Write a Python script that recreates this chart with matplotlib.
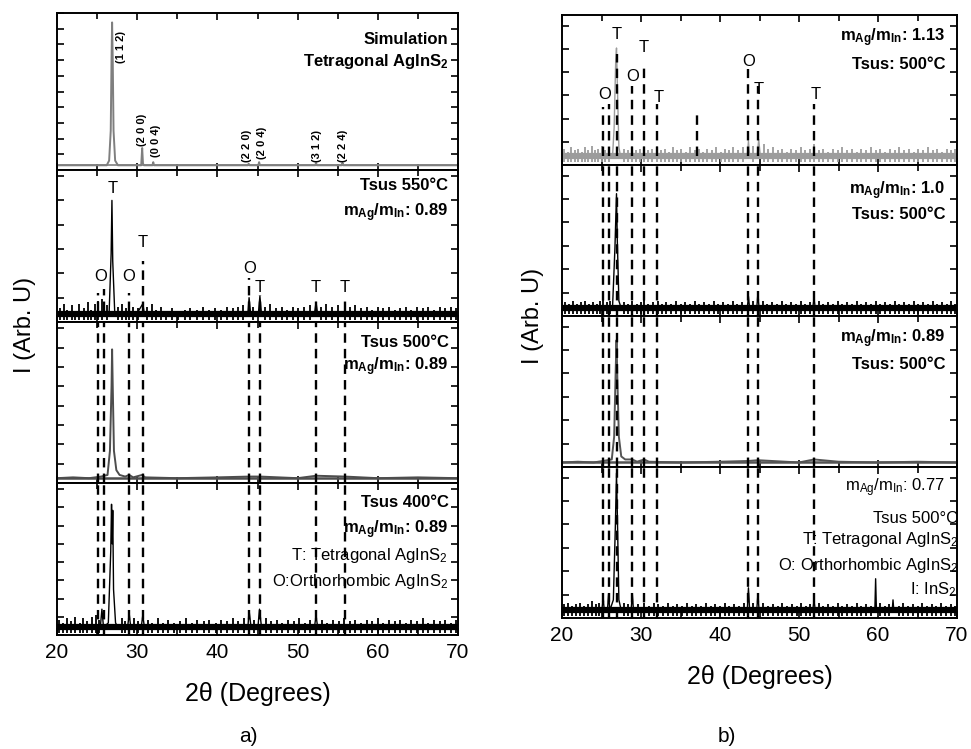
import matplotlib
matplotlib.use("Agg")
import matplotlib.pyplot as plt
from matplotlib.ticker import MultipleLocator
from matplotlib import font_manager as fm

W, H = 971, 749

# ---------------- data (2theta in degrees, intensity as fraction of sub-panel) ----------------
# left panel a)
sim_pat = [(20, .03), (26.2, .03), (26.5, .06), (26.7, .25), (26.8, .70), (26.87, .94), (26.95, .70),
           (27.05, .25), (27.25, .06), (27.6, .03), (30.5, .03), (30.62, .14), (30.72, .04), (30.85, .03),
           (31.9, .03), (32.0, .05), (32.1, .03), (43.8, .03), (43.9, .04), (44.0, .03), (45.1, .03),
           (45.2, .05), (45.3, .03), (52.2, .03), (52.3, .045), (52.4, .03), (55.5, .03), (55.6, .045),
           (55.7, .03), (70, .03)]
hkl_text = ["(1 1 2)", "(2 0 0)", "(0 0 4)", "(2 2 0)", "(2 0 4)", "(3 1 2)", "(2 2 4)"]
hkl_x = [28.0, 30.6, 32.3, 43.7, 45.5, 52.4, 55.6]
hkl_y = [0.68, 0.15, 0.08, 0.05, 0.07, 0.05, 0.05]

# Tsus 550 C : peaks + noise spikes
l550_pat = [(20, .05), (26.5, .06), (26.75, .45), (26.85, .80), (26.95, .40), (27.2, .06), (29.9, .05),
            (30.7, .12), (30.9, .05), (43.8, .05), (43.95, .16), (44.15, .05), (45.1, .05), (45.3, .17),
            (45.5, .05), (52.1, .05), (52.3, .13), (52.5, .05), (70, .05)]
l550_spk = [(20.4, .09), (20.9, .12), (21.3, .08), (21.9, .11), (22.2, .07), (22.8, .12), (23.4, .09),
            (23.9, .13), (24.3, .08), (24.7, .12), (25.1, .14), (25.6, .15), (26.2, .11), (27.6, .10),
            (28.1, .12), (28.6, .09), (29.0, .13), (29.5, .10), (30.1, .09), (31.2, .10), (31.8, .12),
            (32.4, .08), (33.0, .10), (33.6, .07), (34.3, .09), (35.1, .07), (35.9, .08), (36.6, .09),
            (37.4, .08), (38.2, .10), (38.9, .08), (39.7, .09), (40.5, .08), (41.2, .10), (41.9, .09),
            (42.6, .10), (43.2, .11), (44.5, .10), (45.9, .10), (46.6, .12), (47.3, .09), (48.0, .10),
            (48.7, .08), (49.4, .10), (50.1, .09), (50.8, .10), (51.5, .11), (52.9, .10), (53.6, .12),
            (54.3, .10), (55.0, .11), (55.9, .12), (56.5, .10), (57.2, .11), (57.9, .09), (58.6, .10),
            (59.3, .08), (60.0, .10), (60.7, .09), (61.4, .10), (62.1, .08), (62.8, .09), (63.5, .10),
            (64.2, .08), (64.9, .10), (65.6, .09), (66.3, .10), (67.0, .08), (67.7, .10), (68.4, .09),
            (69.1, .10), (69.7, .09)]
l550_marks = ["O", "T", "O", "T", "O", "T", "T", "T"]
l550_mark_x = [25.4, 26.9, 29.0, 30.7, 44.0, 45.3, 52.3, 55.9]
l550_mark_y = [0.30, 0.88, 0.30, 0.52, 0.35, 0.23, 0.23, 0.23]
l550_dash_x = [25.1, 25.9, 29.0, 30.7, 44.0, 45.3, 52.3, 55.9]
l550_dash_top = [0.19, 0.22, 0.19, 0.40, 0.29, 0.18, 0.16, 0.16]

# Tsus 500 C
l500_pat = [(20, .03), (22, .035), (24, .03), (25.5, .04), (26.3, .05), (26.6, .20), (26.8, .60),
            (26.87, .83), (26.95, .60), (27.1, .20), (27.4, .08), (27.8, .05), (28.5, .04), (29.0, .05),
            (29.5, .035), (30.6, .05), (31.0, .035), (35, .03), (40, .035), (44, .04), (45.3, .04),
            (50, .03), (52.3, .045), (55.9, .04), (60, .03), (65, .035), (70, .03)]

# Tsus 400 C
l400_pat = [(20, .05), (25.4, .05), (25.6, .17), (25.8, .05), (26.4, .08), (26.7, .55), (26.8, .86),
            (26.88, .60), (26.95, .82), (27.05, .30), (27.3, .08), (27.6, .05), (28.8, .05), (29.0, .14),
            (29.2, .05), (30.5, .05), (30.7, .13), (30.9, .05), (43.8, .05), (43.95, .16), (44.2, .05),
            (45.05, .05), (45.25, .17), (45.5, .05), (52.1, .05), (52.3, .13), (52.5, .05), (70, .05)]
l400_spk = [(20.3, .10), (20.8, .08), (21.2, .11), (21.7, .09), (22.3, .12), (22.9, .08), (23.3, .11),
            (23.8, .09), (24.4, .12), (24.9, .13), (25.2, .10), (28.1, .11), (28.5, .09), (29.6, .11),
            (30.1, .09), (31.4, .10), (31.9, .08), (32.6, .11), (33.2, .08), (33.9, .10), (34.6, .08),
            (35.3, .09), (36.1, .11), (36.8, .08), (37.5, .10), (38.3, .09), (39.0, .10), (39.8, .08),
            (40.5, .10), (41.2, .09), (41.9, .11), (42.6, .09), (43.3, .11), (44.6, .10), (46.0, .11),
            (46.7, .09), (47.4, .10), (48.1, .08), (48.8, .10), (49.5, .09), (50.2, .11), (50.9, .08),
            (51.6, .10), (53.0, .10), (53.7, .08), (54.4, .10), (55.1, .09), (55.8, .11), (56.5, .09),
            (57.2, .10), (57.9, .08), (58.6, .10), (59.3, .09), (60.0, .11), (60.7, .08), (61.4, .10),
            (62.1, .09), (62.8, .10), (63.5, .08), (64.2, .10), (64.9, .09), (65.6, .11), (66.3, .08),
            (67.0, .10), (67.7, .09), (68.4, .10), (69.1, .08), (69.7, .10)]
left_dash_x = [25.1, 25.9, 29.0, 30.7, 44.0, 45.3, 52.3, 55.9]

# right panel b)
# m_Ag/m_In 1.13
r113_pat = [(20, .06), (26.4, .06), (26.6, .25), (26.8, .70), (26.9, .78), (27.0, .55), (27.2, .12),
            (27.4, .06), (43.45, .06), (43.6, .16), (43.75, .06), (44.7, .06), (44.9, .17), (45.1, .06),
            (70, .06)]
r113_spk = [(20.3, .11), (20.7, .09), (21.1, .12), (21.6, .10), (22.0, .11), (22.5, .09), (22.9, .12),
            (23.3, .10), (23.8, .13), (24.2, .10), (24.6, .11), (25.0, .13), (25.5, .10), (25.9, .12),
            (27.8, .11), (28.3, .10), (28.9, .13), (29.4, .10), (29.9, .11), (30.4, .13), (30.9, .10),
            (31.4, .11), (32.0, .13), (32.5, .10), (33.0, .11), (33.5, .09), (34.0, .12), (34.6, .10),
            (35.1, .11), (35.7, .09), (36.2, .12), (36.8, .10), (37.3, .11), (37.9, .09), (38.4, .11),
            (39.0, .10), (39.5, .12), (40.1, .09), (40.6, .11), (41.2, .10), (41.7, .12), (42.3, .10),
            (42.9, .12), (44.2, .13), (45.6, .14), (46.1, .11), (46.7, .12), (47.3, .10), (47.9, .11),
            (48.5, .09), (49.0, .11), (49.6, .10), (50.2, .12), (50.8, .10), (51.4, .11), (51.9, .14),
            (52.5, .10), (53.1, .11), (53.7, .09), (54.3, .11), (54.9, .10), (55.5, .12), (56.1, .10),
            (56.7, .11), (57.3, .09), (57.9, .11), (58.5, .10), (59.1, .12), (59.7, .10), (60.3, .11),
            (60.9, .09), (61.5, .11), (62.1, .10), (62.7, .12), (63.3, .10), (63.9, .11), (64.5, .09),
            (65.1, .11), (65.7, .10), (66.3, .12), (66.9, .10), (67.5, .11), (68.1, .09), (68.7, .11),
            (69.3, .10), (69.8, .11)]
r113_marks = ["O", "T", "O", "T", "T", "O", "T", "T"]
r113_mark_x = [25.4, 26.9, 28.95, 30.4, 32.2, 43.6, 44.9, 52.1]
r113_mark_y = [0.47, 0.87, 0.59, 0.78, 0.45, 0.69, 0.50, 0.47]
r113_dash_x = [25.2, 25.9, 27.0, 28.9, 30.4, 32.0, 37.1, 43.6, 44.8, 51.9]
r113_dash_top = [0.39, 0.41, 0.74, 0.53, 0.66, 0.41, 0.37, 0.64, 0.53, 0.41]

# m_Ag/m_In 1.0
r100_pat = [(20, .05), (26.4, .06), (26.7, .45), (26.9, .81), (27.0, .50), (27.2, .10), (27.5, .05),
            (43.45, .05), (43.6, .13), (43.75, .05), (44.65, .05), (44.8, .15), (44.95, .05),
            (51.75, .05), (51.9, .13), (52.05, .05), (70, .05)]
r100_spk = [(20.4, .09), (20.9, .08), (21.4, .10), (21.9, .08), (22.4, .09), (22.9, .10), (23.4, .08),
            (23.9, .09), (24.4, .08), (24.8, .10), (25.2, .11), (25.7, .09), (26.1, .10), (27.9, .09),
            (28.4, .08), (28.9, .10), (29.5, .08), (30.0, .09), (30.4, .12), (30.9, .08), (31.5, .09),
            (32.1, .10), (32.6, .08), (33.2, .09), (33.8, .08), (34.4, .10), (35.0, .08), (35.6, .09),
            (36.2, .08), (36.8, .10), (37.4, .08), (38.0, .09), (38.6, .08), (39.2, .10), (39.8, .08),
            (40.4, .09), (41.0, .08), (41.6, .10), (42.2, .08), (42.8, .09), (44.2, .10), (45.4, .10),
            (46.0, .08), (46.6, .09), (47.2, .08), (47.8, .10), (48.4, .08), (49.0, .09), (49.6, .08),
            (50.2, .10), (50.8, .08), (51.4, .09), (52.5, .10), (53.1, .08), (53.7, .09), (54.3, .08),
            (54.9, .10), (55.5, .08), (56.1, .09), (56.7, .08), (57.3, .10), (57.9, .08), (58.5, .09),
            (59.1, .08), (59.7, .10), (60.3, .08), (60.9, .09), (61.5, .08), (62.1, .10), (62.7, .08),
            (63.3, .09), (63.9, .08), (64.5, .10), (65.1, .08), (65.7, .09), (66.3, .08), (66.9, .10),
            (67.5, .08), (68.1, .09), (68.7, .08), (69.3, .10), (69.8, .08)]

# m_Ag/m_In 0.89
r089_pat = [(20, .03), (22, .035), (24, .03), (25.2, .04), (26.3, .05), (26.6, .20), (26.8, .65),
            (26.9, .84), (27.0, .60), (27.2, .20), (27.5, .07), (28.0, .05), (28.9, .05), (29.5, .035),
            (30.4, .05), (31.0, .035), (35, .03), (40, .035), (43.6, .04), (44.8, .045), (50, .03),
            (51.9, .05), (55, .035), (60, .03), (65, .035), (70, .03)]

# m_Ag/m_In 0.77
r077_pat = [(20, .05), (25.05, .05), (25.2, .14), (25.35, .05), (25.75, .05), (25.9, .16), (26.05, .05),
            (26.5, .12), (26.75, .60), (26.9, .96), (27.0, .70), (27.2, .12), (27.5, .05), (28.75, .05),
            (28.9, .16), (29.05, .05), (43.45, .05), (43.6, .20), (43.75, .05), (44.65, .05), (44.8, .16),
            (44.95, .05), (51.75, .05), (51.9, .13), (52.05, .05), (59.6, .05), (59.7, .26), (59.8, .05),
            (61.8, .05), (61.9, .12), (62.0, .05), (70, .05)]
r077_spk = [(20.3, .09), (20.8, .10), (21.3, .08), (21.8, .09), (22.3, .10), (22.8, .08), (23.3, .09),
            (23.8, .11), (24.3, .09), (24.7, .10), (27.9, .10), (28.4, .09), (29.6, .09), (30.4, .10),
            (31.0, .08), (31.6, .10), (32.2, .09), (32.8, .08), (33.4, .10), (34.0, .08), (34.6, .09),
            (35.2, .08), (35.8, .10), (36.4, .08), (37.0, .09), (37.6, .08), (38.2, .10), (38.8, .08),
            (39.4, .09), (40.0, .08), (40.6, .10), (41.2, .08), (41.8, .09), (42.4, .08), (43.0, .10),
            (44.2, .10), (45.5, .10), (46.1, .08), (46.7, .09), (47.3, .08), (47.9, .10), (48.5, .08),
            (49.1, .09), (49.7, .08), (50.3, .10), (50.9, .08), (51.4, .09), (52.5, .10), (53.1, .08),
            (53.7, .09), (54.3, .08), (54.9, .10), (55.5, .08), (56.1, .09), (56.7, .08), (57.3, .10),
            (57.9, .08), (58.5, .09), (59.1, .08), (60.3, .10), (60.9, .08), (61.4, .09), (62.6, .08),
            (63.2, .10), (63.8, .08), (64.4, .09), (65.0, .08), (65.6, .10), (66.2, .08), (66.8, .09),
            (67.4, .08), (68.0, .10), (68.6, .08), (69.2, .09), (69.8, .08)]
right_dash_x = [25.2, 25.9, 27.0, 28.9, 30.4, 32.0, 43.6, 44.8, 51.9]

# ---------------- fonts ----------------
names = {f.name for f in fm.fontManager.ttflist}
narrow = "Liberation Sans Narrow" if "Liberation Sans Narrow" in names else "Liberation Sans"
plt.rcParams["font.family"] = ["Liberation Sans", "DejaVu Sans"]
plt.rcParams["mathtext.fontset"] = "custom"
plt.rcParams["mathtext.rm"] = "Liberation Sans"
plt.rcParams["mathtext.bf"] = "Liberation Sans:bold"
plt.rcParams["mathtext.default"] = "regular"

fig = plt.figure(figsize=(W / 100, H / 100), dpi=100)


def add_panel(x0, x1, y0, y1):
    ax = fig.add_axes([x0 / W, 1 - y1 / H, (x1 - x0) / W, (y1 - y0) / H])
    ax.set_xlim(20, 70)
    ax.set_ylim(0, 1)
    ax.xaxis.set_major_locator(MultipleLocator(10))
    ax.xaxis.set_minor_locator(MultipleLocator(5))
    ax.tick_params(which="both", direction="in", top=True, right=True, width=1.2)
    ax.tick_params(which="major", length=5)
    ax.tick_params(which="minor", length=4)
    ax.tick_params(axis="y", labelleft=False)
    ax.tick_params(axis="x", labelbottom=False)
    for s in ax.spines.values():
        s.set_linewidth(1.4)
    return ax


def draw(ax, pat, color, lw=1.0, band=3.0, spikes=None):
    xs, ys = zip(*pat)
    base = pat[0][1]
    ax.plot(xs, ys, color=color, lw=lw)
    ax.axhline(base, color=color, lw=band)
    if spikes:
        sx, sy = zip(*spikes)
        ax.vlines(sx, base - 0.04, sy, color=color, lw=1.3)


dash = (0, (4, 2.6))
dkw = dict(color="black", lw=1.7, linestyle=dash)
bold = dict(fontsize=12, fontweight="bold", ha="right", va="center")
norm = dict(fontsize=12, ha="right", va="center")
mk = dict(fontsize=12, ha="center", va="center")
ratio_bf = "m$_{\\mathbf{Ag}}$/m$_{\\mathbf{In}}$: "

# ---------------- panel a ----------------
lb = [13, 170, 322, 483, 635]
LX0, LX1 = 57, 458
axL = [add_panel(LX0, LX1, lb[i], lb[i + 1]) for i in range(4)]
for ax, st in zip(axL, [0.1, 0.16, 0.12, 0.12]):
    ax.yaxis.set_major_locator(MultipleLocator(st))

a0, a1, a2, a3 = axL
draw(a0, sim_pat, "#7f7f7f", lw=1.4, band=1.2)
for t, x, y in zip(hkl_text, hkl_x, hkl_y):
    a0.text(x, y, t, rotation=90, fontsize=8, fontweight="bold", ha="center", va="bottom")
a0.text(68.8, 0.83, "Simulation", **bold)
a0.text(68.8, 0.69, "Tetragonal AgInS$_\\mathbf{2}$", **bold)

draw(a1, l550_pat, "black", band=4.5, spikes=l550_spk)
for t, x, y in zip(l550_marks, l550_mark_x, l550_mark_y):
    a1.text(x, y, t, **mk)
a1.vlines(l550_dash_x, 0.07, l550_dash_top, **dkw)
a1.text(68.8, 0.90, "Tsus 550°C", **bold)
a1.text(68.8, 0.72, ratio_bf + "0.89", **bold)

draw(a2, l500_pat, "#4d4d4d", lw=1.4, band=1.8)
for x in left_dash_x:
    a2.axvline(x, **dkw)
a2.text(68.8, 0.875, "Tsus 500°C", **bold)
a2.text(68.8, 0.72, ratio_bf + "0.89", **bold)

draw(a3, l400_pat, "black", band=4.5, spikes=l400_spk)
for x in left_dash_x:
    a3.axvline(x, **dkw)
a3.text(68.8, 0.87, "Tsus 400°C", **bold)
a3.text(68.8, 0.69, ratio_bf + "0.89", **bold)
a3.text(68.8, 0.52, "T: Tetragonal AgInS$_2$", **norm)
a3.text(68.8, 0.35, "O:Orthorhombic AgInS$_2$", **norm)

# ---------------- panel b ----------------
rb = [15, 165, 316, 467, 618]
RX0, RX1 = 562, 957
axR = [add_panel(RX0, RX1, rb[i], rb[i + 1]) for i in range(4)]
for ax in axR:
    ax.yaxis.set_major_locator(MultipleLocator(0.155))

b0, b1, b2, b3 = axR
draw(b0, r113_pat, "#9c9c9c", band=4.5, spikes=r113_spk)
for t, x, y in zip(r113_marks, r113_mark_x, r113_mark_y):
    b0.text(x, y, t, **mk)
b0.vlines(r113_dash_x, 0.06, r113_dash_top, **dkw)
b0.text(68.5, 0.85, ratio_bf + "1.13", **bold)
b0.text(68.5, 0.67, "Tsus: 500°C", **bold)

draw(b1, r100_pat, "black", band=4.5, spikes=r100_spk)
for x in right_dash_x:
    b1.axvline(x, **dkw)
b1.text(68.5, 0.83, ratio_bf + "1.0", **bold)
b1.text(68.5, 0.67, "Tsus: 500°C", **bold)

draw(b2, r089_pat, "#555555", lw=1.4, band=1.8)
for x in right_dash_x:
    b2.axvline(x, **dkw)
b2.text(68.5, 0.85, ratio_bf + "0.89", **bold)
b2.text(68.5, 0.68, "Tsus: 500°C", **bold)

draw(b3, r077_pat, "black", band=4.5, spikes=r077_spk)
for x in right_dash_x:
    b3.axvline(x, **dkw)
b3.text(68.5, 0.86, "m$_{Ag}$/m$_{In}$: 0.77", **norm)
b3.text(70.2, 0.66, "Tsus 500°C", **norm)
b3.text(70.2, 0.52, "T: Tetragonal AgInS$_2$", **norm)
b3.text(70.2, 0.35, "O: Orthorhombic AgInS$_2$", **norm)
b3.text(70.0, 0.19, "I: InS$_2$", **norm)

# bottom axes: tick labels + x labels
for ax in (a3, b3):
    ax.tick_params(axis="x", labelbottom=True, labelsize=15, pad=6)
    for lab in ax.get_xticklabels():
        lab.set_fontfamily(narrow)
    ax.set_xlabel("2θ (Degrees)", fontsize=18, fontfamily=narrow, labelpad=14)

fig.text(25 / W, 1 - 325 / H, "I (Arb. U)", rotation=90, fontsize=17, ha="center", va="center")
fig.text(533 / W, 1 - 316 / H, "I (Arb. U)", rotation=90, fontsize=17, ha="center", va="center")
fig.text(248 / W, 1 - 737 / H, "a)", fontsize=15, fontfamily=narrow, ha="center", va="center")
fig.text(727 / W, 1 - 737 / H, "b)", fontsize=15, fontfamily=narrow, ha="center", va="center")

fig.savefig("out.png", dpi=100)
